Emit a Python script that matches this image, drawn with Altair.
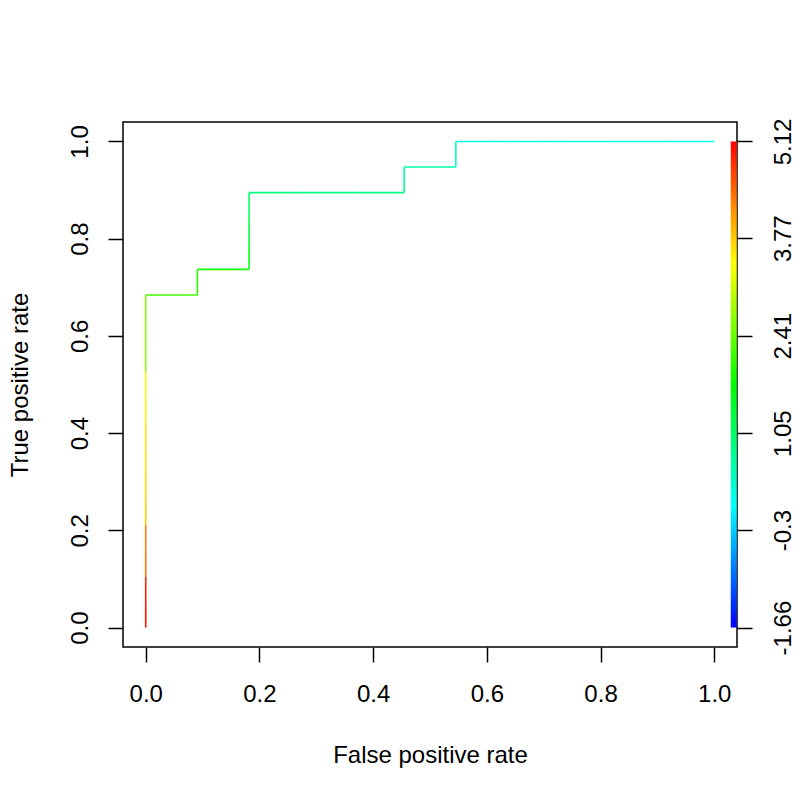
import altair as alt
import pandas as pd

# ROC curve segments (false positive rate / true positive rate) and the cutoff
# value that colours each segment
seg_x1 = [0, 0, 0, 0, 0, 0, 0, 0, 0, 0, 0, 0, 0,
          0, 1/11, 1/11, 2/11, 2/11, 2/11, 2/11, 3/11, 4/11, 5/11, 5/11, 6/11,
          6/11, 7/11, 8/11, 9/11, 10/11]
seg_x2 = [0, 0, 0, 0, 0, 0, 0, 0, 0, 0, 0, 0, 0,
          1/11, 1/11, 2/11, 2/11, 2/11, 2/11, 3/11, 4/11, 5/11, 5/11, 6/11, 6/11,
          7/11, 8/11, 9/11, 10/11, 11/11]
seg_y1 = [0/19, 1/19, 2/19, 3/19, 4/19, 5/19, 6/19, 7/19, 8/19, 9/19, 10/19, 11/19, 12/19,
          13/19, 13/19, 14/19, 14/19, 15/19, 16/19, 17/19, 17/19, 17/19, 17/19, 18/19, 18/19,
          19/19, 19/19, 19/19, 19/19, 19/19]
seg_y2 = [1/19, 2/19, 3/19, 4/19, 5/19, 6/19, 7/19, 8/19, 9/19, 10/19, 11/19, 12/19, 13/19,
          13/19, 14/19, 14/19, 15/19, 16/19, 17/19, 17/19, 17/19, 17/19, 18/19, 18/19, 19/19,
          19/19, 19/19, 19/19, 19/19, 19/19]
seg_cut = [5.0, 4.9, 4.3, 4.27, 3.75, 3.7, 3.6, 3.55, 3.5, 3.45, 2.7, 2.65, 2.6,
           2.15, 2.0, 1.87, 1.6, 1.35, 1.1, 0.9, 0.88, 0.85, 0.7, 0.6, 0.5,
           0.2, 0.18, 0.17, 0.16, 0.15]

cut_min = -1.66
cut_max = 5.12
cut_ticks = [-1.66, -0.3, 1.05, 2.41, 3.77, 5.12]
rainbow = ["#0000ff", "#00ffff", "#00ff00", "#ffff00", "#ff0000"]
rate_ticks = [0.0, 0.2, 0.4, 0.6, 0.8, 1.0]

# colour bar placement (in FPR units, just right of 1.0)
bar_x = [1.029]
bar_x2 = [1.0395]

FONT = "Liberation Sans"
FS = 24

segs = pd.DataFrame({"x1": seg_x1, "x2": seg_x2, "y1": seg_y1, "y2": seg_y2, "cut": seg_cut})
bar = pd.DataFrame({"bx": bar_x, "bx2": bar_x2, "lo": [cut_min], "hi": [cut_max]})

xscale = alt.Scale(domain=[-0.04, 1.04], nice=False, zero=False)
yscale = alt.Scale(domain=[-0.04, 1.04], nice=False, zero=False)
span = cut_max - cut_min
cscale_y = alt.Scale(domain=[cut_min - 0.04 * span, cut_max + 0.04 * span], nice=False, zero=False)

xaxis = alt.Axis(values=rate_ticks, format=".1f", title="False positive rate",
                 grid=False, domain=False, tickSize=15, tickColor="black", tickWidth=1.5,
                 labelFont=FONT, labelFontSize=FS, labelColor="black",
                 labelAlign="center", labelBaseline="alphabetic", labelPadding=39,
                 titleFont=FONT, titleFontSize=FS, titleFontWeight="normal", titleColor="black",
                 titleX=307, titleY=115, titleAlign="center", titleBaseline="alphabetic")
yaxis = alt.Axis(values=rate_ticks, format=".1f", title="True positive rate",
                 grid=False, domain=False, tickSize=15, tickColor="black", tickWidth=1.5,
                 labelFont=FONT, labelFontSize=FS, labelColor="black", labelAngle=270,
                 labelAlign="center", labelBaseline="alphabetic", labelPadding=21,
                 titleFont=FONT, titleFontSize=FS, titleFontWeight="normal", titleColor="black",
                 titleAngle=270, titleX=-96, titleY=262.5, titleAlign="center",
                 titleBaseline="alphabetic")
caxis = alt.Axis(values=cut_ticks, orient="right", labelExpr="toString(datum.value)",
                 title=None, grid=False, domain=False, tickSize=15, tickColor="black",
                 tickWidth=1.5, labelFont=FONT, labelFontSize=FS, labelColor="black",
                 labelAngle=270, labelAlign="center", labelBaseline="alphabetic",
                 labelPadding=38)

curve = alt.Chart(segs).mark_rule(strokeWidth=1.6).encode(
    x=alt.X("x1:Q", scale=xscale, axis=xaxis),
    x2="x2:Q",
    y=alt.Y("y1:Q", scale=yscale, axis=yaxis),
    y2="y2:Q",
    color=alt.Color("cut:Q", scale=alt.Scale(domain=[cut_min, cut_max], range=rainbow,
                                             interpolate="rgb"), legend=None),
)

gradient = {
    "gradient": "linear", "x1": 0, "y1": 1, "x2": 0, "y2": 0,
    "stops": [{"offset": i / (len(rainbow) - 1), "color": c} for i, c in enumerate(rainbow)],
}

colorbar = alt.Chart(bar).mark_rect(fill=gradient, stroke=None).encode(
    x=alt.X("bx:Q", scale=xscale),
    x2="bx2:Q",
    y=alt.Y("lo:Q", scale=cscale_y, axis=caxis),
    y2="hi:Q",
)

chart = alt.layer(curve, colorbar).resolve_scale(y="independent").properties(
    width=614, height=525,
    padding={"left": 115, "top": 114, "right": 55, "bottom": 130},
    autosize=alt.AutoSizeParams(type="none"),
    background="white",
).configure_view(stroke="black", strokeWidth=1.5)

chart.save("out.html", embed_options={"renderer": "svg", "actions": False})
